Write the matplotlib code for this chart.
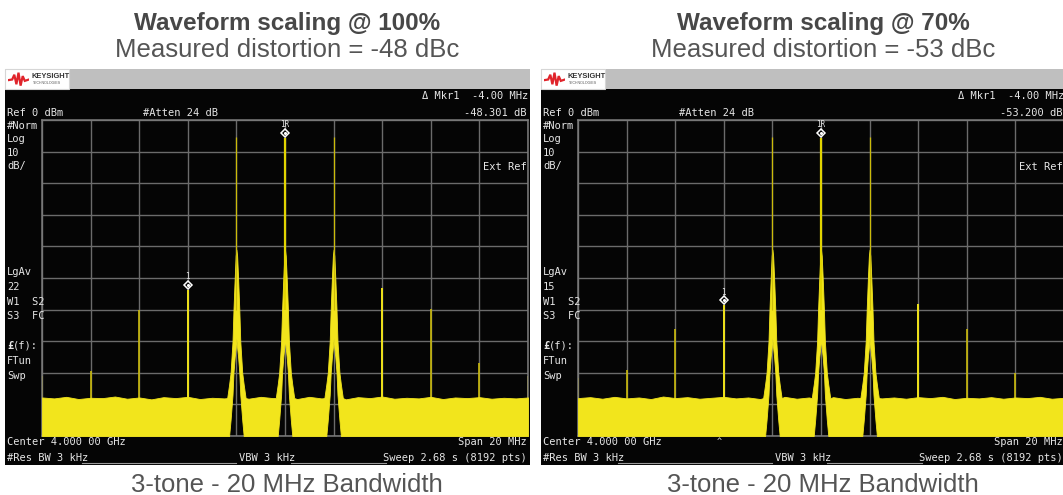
import numpy as np
import matplotlib.pyplot as plt
from matplotlib.patches import Rectangle
from matplotlib.lines import Line2D
from matplotlib.transforms import offset_copy

W, H = 1063, 495
MONO = 'DejaVu Sans Mono'
SANS = 'Liberation Sans'

# offsets from the 4.000 GHz centre, MHz
tone_mhz = [-2, 0, 2]
tone_dbm = [-5.4, -5.6, -5.3]
spur_mhz = [-10, -8, -6, -4, 4, 6, 8, 10]
spur_100 = [-81, -79.5, -60, -53.7, -53.3, -59.8, -77, -81]
spur_70 = [-81.5, -79, -66, -58.6, -58.3, -66, -80, -81]

# noise floor read every 0.5 MHz
noise_mhz = np.arange(-10, 10.01, 0.5)
noise_100 = [-87.8, -88.1, -87.6, -88.3, -87.9, -88.0, -87.5, -88.2, -87.8, -88.4,
             -87.7, -88.0, -87.6, -88.3, -87.9, -88.1, -87.7, -88.2, -87.6, -88.0,
             -87.9, -88.3, -87.6, -88.1, -87.8, -88.4, -87.7, -88.0, -87.5, -88.2,
             -87.9, -88.1, -87.6, -88.3, -87.8, -88.0, -87.7, -88.2, -87.9, -88.1, -87.8]
noise_70 = [-88.0, -87.7, -88.2, -87.6, -88.1, -87.8, -88.3, -87.5, -88.0, -87.7,
            -88.2, -87.9, -87.6, -88.1, -87.8, -88.3, -87.9, -87.6, -88.2, -87.8,
            -88.0, -87.7, -88.3, -87.9, -87.6, -88.1, -87.8, -88.2, -87.7, -88.0,
            -87.6, -88.3, -87.9, -88.1, -87.7, -88.2, -87.8, -88.0, -87.6, -88.2, -87.9]

# skirt around each tone: offset (MHz), upper and lower edge of the trace (dBm)
skirt_df = [-0.38, -0.3, -0.24, -0.16, -0.12, -0.07, -0.03, 0,
            0.03, 0.07, 0.12, 0.16, 0.24, 0.3, 0.38]
skirt_top = [-88, -83.7, -80, -70, -60, -50, -43, -41,
             -43, -50, -60, -70, -80, -83.7, -88]
skirt_low = [-100, -100, -95, -87, -80, -75, -72, -69,
             -72, -75, -80, -87, -95, -100, -100]

YEL = '#f2e51c'
OLIVE = '#cbbb0a'
TXT = '#e6e6e6'

fig = plt.figure(figsize=(W / 100, H / 100), dpi=100)
fig.patch.set_facecolor('white')


def fx(x):
    return x / W


def fy(y):
    return 1 - y / H


def label(x, y, s, ha='left', **kw):
    kw.setdefault('family', MONO)
    kw.setdefault('fontsize', 7.5)
    kw.setdefault('color', TXT)
    fig.text(fx(x), fy(y), s, ha=ha, va='center', **kw)


def trace(noise):
    pts = [(f, -100, n) for f, n in zip(noise_mhz, noise)
           if min(abs(f - t) for t in tone_mhz) > 0.4]
    for t in tone_mhz:
        pts += [(t + d, lo, hi) for d, lo, hi in zip(skirt_df, skirt_low, skirt_top)]
    pts.sort()
    f, lo, hi = map(np.array, zip(*pts))
    return f, lo, hi


def panel(x0, scale, dist, mkr, avg, spurs, noise, caret=False):
    # captions
    fig.text(fx(x0 + 282), fy(30), f'Waveform scaling @ {scale}%', ha='center', va='baseline',
             family=SANS, fontsize=17.5, fontweight='bold', color='#474747')
    fig.text(fx(x0 + 282), fy(57), f'Measured distortion = {dist} dBc', ha='center', va='baseline',
             family=SANS, fontsize=18.5, color='#555555')
    fig.text(fx(x0 + 282), fy(492), '3-tone - 20 MHz Bandwidth', ha='center', va='baseline',
             family=SANS, fontsize=18.5, color='#555555')

    # instrument frame (behind the axes)
    fig.add_artist(Rectangle((fx(x0), fy(89)), 525 / W, 20 / H, transform=fig.transFigure,
                             facecolor='#bfbfbf', edgecolor='none', zorder=-5))
    fig.add_artist(Rectangle((fx(x0), fy(89)), 64 / W, 20 / H, transform=fig.transFigure,
                             facecolor='white', edgecolor='#d6d6d6', lw=0.8, zorder=-4))
    fig.add_artist(Rectangle((fx(x0), fy(465)), 525 / W, 376 / H, transform=fig.transFigure,
                             facecolor='#050505', edgecolor='none', zorder=-5))

    # logo
    lg = fig.add_axes([fx(x0 + 3), fy(87), 21 / W, 15 / H])
    lg.axis('off')
    lg.plot([0, 0.2, 0.3, 0.4, 0.5, 0.6, 0.7, 0.8, 1], [0.45, 0.5, 0.85, 0.15, 1.0, 0.05, 0.75, 0.4, 0.5],
            color='#e0242b', lw=1.6, solid_joinstyle='miter')
    lg.set_xlim(0, 1)
    lg.set_ylim(-0.05, 1.05)
    fig.text(fx(x0 + 26), fy(76.5), 'KEYSIGHT', family=SANS, fontsize=5.4, fontweight='bold',
             color='#333333', va='center')
    fig.text(fx(x0 + 28), fy(83), 'TECHNOLOGIES', family=SANS, fontsize=2.6,
             color='#555555', va='center')

    # display grid
    ax = fig.add_axes([fx(x0 + 37), fy(436), 486 / W, 316 / H])
    ax.set_facecolor('#050505')
    ax.set_xlim(-10, 10)
    ax.set_ylim(-100, 0)
    ax.set_xticks(np.arange(-10, 11, 2))
    ax.set_yticks(np.arange(-100, 1, 10))
    ax.tick_params(length=0, labelbottom=False, labelleft=False)
    ax.grid(True, color='#6b6b6b', lw=1.0)
    ax.set_axisbelow(True)
    for s in ax.spines.values():
        s.set_color('#7d7d7d')
        s.set_linewidth(1.1)

    f, lo, hi = trace(noise)
    ax.fill_between(f, lo, hi, color=YEL, lw=0.6, edgecolor=YEL, zorder=3)
    ax.vlines(spur_mhz, -95, spurs, color=OLIVE, lw=1.2, zorder=2)
    ax.vlines([spur_mhz[3], spur_mhz[4]], -95, [spurs[3], spurs[4]], color=YEL, lw=1.3, zorder=2)
    ax.vlines([tone_mhz[0], tone_mhz[2]], -60, [tone_dbm[0], tone_dbm[2]], color=OLIVE, lw=0.9, zorder=4)
    ax.vlines(tone_mhz[1], -60, tone_dbm[1], color='#e2d400', lw=1.6, zorder=4)

    # markers
    up = offset_copy(ax.transData, fig=fig, x=0, y=5, units='dots')
    for mx, my, name in [(spur_mhz[3], spurs[3], '1'), (tone_mhz[1], tone_dbm[1], '1R')]:
        ax.plot(mx, my, marker='D', ms=4.5, mfc='#050505', mec='white', mew=1.1,
                transform=up, zorder=6, clip_on=False)
        ax.plot(mx, my, marker='o', ms=1.2, mfc='white', mec='white', transform=up, zorder=7)
        ax.annotate(name, (mx, my), xytext=(0, 13), textcoords='offset pixels', ha='center',
                    va='center', family=MONO, fontsize=5.5, color=TXT, zorder=7)

    if caret:
        ax.annotate('^', (spur_mhz[3], -100), xytext=(-5, -5), textcoords='offset pixels',
                    ha='center', va='center', family=MONO, fontsize=6, color=TXT,
                    annotation_clip=False)

    # screen annotations
    label(x0 + 523, 96, 'Δ Mkr1  -4.00 MHz', ha='right')
    label(x0 + 2, 113, 'Ref 0 dBm')
    label(x0 + 138, 113, '#Atten 24 dB')
    label(x0 + 521, 113, mkr, ha='right')
    for i, s in enumerate(['#Norm', 'Log', '10', 'dB/']):
        label(x0 + 2, 126 + 13.4 * i, s)
    label(x0 + 522, 167, 'Ext Ref', ha='right')
    for i, s in enumerate(['LgAv', avg, 'W1  S2', 'S3  FC']):
        label(x0 + 2, 272 + 14.8 * i, s)
    label(x0 + 2, 346, '£', fontweight='bold')
    label(x0 + 8, 346, '(f):')
    label(x0 + 2, 361, 'FTun')
    label(x0 + 2, 376, 'Swp')
    label(x0 + 2, 442, 'Center 4.000 00 GHz')
    label(x0 + 522, 442, 'Span 20 MHz', ha='right')
    label(x0 + 2, 458, '#Res BW 3 kHz')
    label(x0 + 234, 458, 'VBW 3 kHz')
    label(x0 + 522, 458, 'Sweep 2.68 s (8192 pts)', ha='right')
    for a, b in [(77, 231), (286, 381)]:
        fig.add_artist(Line2D([fx(x0 + a), fx(x0 + b)], [fy(463), fy(463)],
                              transform=fig.transFigure, color='#9a9a9a', lw=0.8))


panel(5, 100, -48, '-48.301 dB', '22', spur_100, noise_100)
panel(541, 70, -53, '-53.200 dB', '15', spur_70, noise_70, caret=True)

fig.savefig('out.png', dpi=100, facecolor='white')
